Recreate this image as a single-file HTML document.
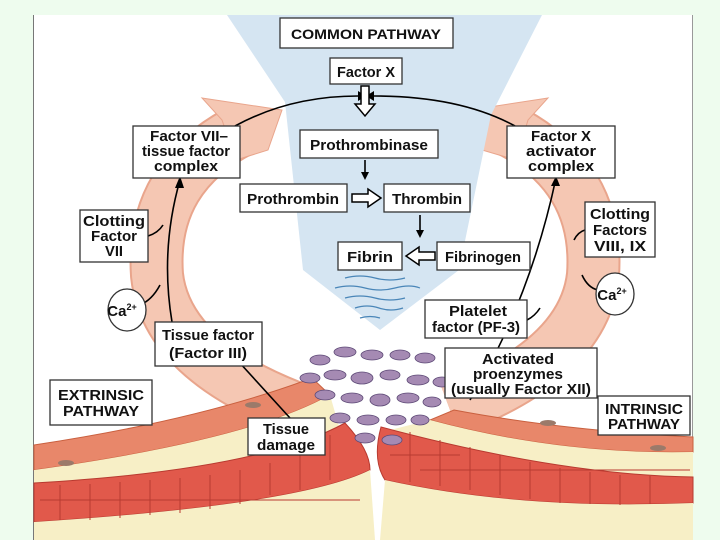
<!DOCTYPE html>
<html><head><meta charset="utf-8"><style>
html,body{margin:0;padding:0;background:#eefcee;}
svg{display:block}
text{font-family:"Liberation Sans Narrow","Liberation Sans",sans-serif;font-weight:bold;fill:#111;}
</style></head><body>
<svg width="720" height="540" viewBox="0 0 720 540" xmlns="http://www.w3.org/2000/svg">
<rect x="0" y="0" width="720" height="540" fill="#eefcee"/>
<rect x="33" y="15" width="660" height="525" fill="#fff"/>
<line x1="33.5" y1="15" x2="33.5" y2="540" stroke="#777" stroke-width="1"/>
<line x1="692.5" y1="15" x2="692.5" y2="540" stroke="#999" stroke-width="1"/>

<g fill="none">
<path d="M245,128 Q150,175 157,275 Q166,360 300,410" stroke="#e9a58c" stroke-width="54"/>
<path d="M245,128 Q150,175 157,275 Q166,360 300,410" stroke="#f5c7b3" stroke-width="50"/>
<path d="M505,128 Q600,175 593,275 Q584,360 450,410" stroke="#e9a58c" stroke-width="54"/>
<path d="M505,128 Q600,175 593,275 Q584,360 450,410" stroke="#f5c7b3" stroke-width="50"/>
</g>
<polygon points="202,98 282,110 268,150 236,160 222,120" fill="#f5c7b3" stroke="#e9a58c"/>
<polygon points="548,98 470,110 482,150 516,160 528,120" fill="#f5c7b3" stroke="#e9a58c"/>

<polygon points="227,15 542,15 491,115 459,270 380,330 303,270 285,102" fill="#d5e5f2"/>
<g stroke="#4a86b8" stroke-width="1.2" fill="none">
<path d="M345,278 q15,-4 30,0 t30,0"/><path d="M335,288 q15,-4 30,0 t30,0 t25,0"/>
<path d="M345,298 q15,-4 30,0 t30,0"/><path d="M355,308 q12,-4 24,0 t24,0"/>
<path d="M360,318 q10,-3 20,0"/>
</g>

<path d="M34,445 Q200,420 312,378 L330,395 Q250,440 34,470 Z" fill="#e8876a" stroke="#c9603f"/>
<path d="M34,470 Q250,440 330,395 L340,430 Q260,470 34,483 Z" fill="#f7efc6"/>
<path d="M34,483 Q260,470 345,423 Q370,450 370,470 Q300,505 34,522 Z" fill="#e1594b" stroke="#b83a30"/>
<path d="M34,522 Q300,505 370,470 L375,540 L34,540 Z" fill="#f7efc6"/>
<path d="M693,437 Q560,430 454,410 L430,420 Q560,455 693,452 Z" fill="#e8876a" stroke="#c9603f"/>
<path d="M693,452 Q560,455 430,420 L390,430 Q560,475 693,477 Z" fill="#f7efc6"/>
<path d="M693,477 Q560,475 381,427 Q372,460 385,480 Q520,510 693,503 Z" fill="#e1594b" stroke="#b83a30"/>
<path d="M693,503 Q520,510 385,480 L380,540 L693,540 Z" fill="#f7efc6"/>
<g stroke="#b83a30" stroke-width="1" fill="none">
<path d="M60,485 v35 M90,484 v36 M120,482 v36 M150,480 v35 M180,478 v35 M210,475 v34 M240,470 v34 M270,463 v32 M300,450 v40 M330,435 v45"/>
<path d="M410,432 v50 M440,440 v46 M470,447 v43 M500,455 v40 M530,462 v37 M560,468 v35 M590,472 v32 M620,475 v30 M650,476 v28"/>
<path d="M40,500 H360 M390,455 H460 M420,470 H690"/>
</g>
<ellipse cx="548" cy="423" rx="8" ry="3" fill="#9b7a6a"/>
<ellipse cx="658" cy="448" rx="8" ry="3" fill="#9b7a6a"/>
<ellipse cx="253" cy="405" rx="8" ry="3" fill="#9b7a6a"/>
<ellipse cx="66" cy="463" rx="8" ry="3" fill="#9b7a6a"/>

<g fill="#a58ab3" stroke="#5e4a77" stroke-width="0.8">
<ellipse cx="320" cy="360" rx="10" ry="5"/><ellipse cx="345" cy="352" rx="11" ry="5"/><ellipse cx="372" cy="355" rx="11" ry="5"/><ellipse cx="400" cy="355" rx="10" ry="5"/><ellipse cx="425" cy="358" rx="10" ry="5"/>
<ellipse cx="310" cy="378" rx="10" ry="5"/><ellipse cx="335" cy="375" rx="11" ry="5"/><ellipse cx="362" cy="378" rx="11" ry="6"/><ellipse cx="390" cy="375" rx="10" ry="5"/><ellipse cx="418" cy="380" rx="11" ry="5"/><ellipse cx="442" cy="382" rx="9" ry="5"/>
<ellipse cx="325" cy="395" rx="10" ry="5"/><ellipse cx="352" cy="398" rx="11" ry="5"/><ellipse cx="380" cy="400" rx="10" ry="6"/><ellipse cx="408" cy="398" rx="11" ry="5"/><ellipse cx="432" cy="402" rx="9" ry="5"/>
<ellipse cx="340" cy="418" rx="10" ry="5"/><ellipse cx="368" cy="420" rx="11" ry="5"/><ellipse cx="396" cy="420" rx="10" ry="5"/><ellipse cx="420" cy="420" rx="9" ry="5"/>
<ellipse cx="365" cy="438" rx="10" ry="5"/><ellipse cx="392" cy="440" rx="10" ry="5"/>
</g>

<g stroke="#000" stroke-width="1.6" fill="none">
<path d="M235,126 Q290,96 358,96"/>
<path d="M515,126 Q460,96 374,96"/>
<path d="M172,322 Q160,250 180,180"/>
<path d="M470,400 Q530,300 556,178"/>
<path d="M140,305 Q152,300 160,285"/>
<path d="M148,236 Q158,233 163,225"/>
<path d="M598,290 Q588,288 582,275"/>
<path d="M585,230 Q578,232 574,240"/>
<path d="M527,320 Q535,316 540,308"/>
<path d="M290,418 L228,350"/>
<path d="M420,215 V234"/><path d="M365,160 V176"/>
</g>
<g fill="#000">
<polygon points="358,91 358,101 366,96"/><polygon points="374,91 374,101 366,96"/>
<polygon points="180,176 175,188 184,188"/>
<polygon points="556,176 551,186 560,186"/>
<polygon points="224,346 236,350 229,357"/>
<polygon points="420,238 416,230 424,230"/><polygon points="365,180 361,172 369,172"/>
</g>
<polygon points="361,86 369,86 369,104 375,104 365,116 355,104 361,104" fill="#fff" stroke="#000" stroke-width="1.5"/>
<polygon points="352,194 368,194 368,189 381,198 368,207 368,202 352,202" fill="#fff" stroke="#000" stroke-width="1.5"/>
<polygon points="435,252 419,252 419,247 406,256 419,265 419,260 435,260" fill="#fff" stroke="#000" stroke-width="1.5"/>

<g fill="#fff" stroke="#333" stroke-width="1.3">
<rect x="280" y="18" width="173" height="30"/>
<rect x="330" y="58" width="72" height="26"/>
<rect x="300" y="130" width="138" height="28"/>
<rect x="240" y="184" width="107" height="28"/>
<rect x="384" y="184" width="86" height="28"/>
<rect x="338" y="242" width="64" height="28"/>
<rect x="437" y="242" width="93" height="28"/>
<rect x="133" y="126" width="107" height="52"/>
<rect x="80" y="210" width="68" height="52"/>
<rect x="155" y="322" width="107" height="44"/>
<rect x="50" y="380" width="102" height="45"/>
<rect x="248" y="418" width="77" height="37"/>
<rect x="507" y="126" width="108" height="52"/>
<rect x="585" y="202" width="70" height="55"/>
<rect x="425" y="300" width="102" height="38"/>
<rect x="445" y="348" width="152" height="50"/>
<rect x="598" y="396" width="92" height="39"/>
<ellipse cx="127" cy="310" rx="19" ry="21"/>
<ellipse cx="615" cy="294" rx="19" ry="21"/>
</g>
<g font-size="15" text-anchor="middle" lengthAdjust="spacingAndGlyphs">
<text x="366" y="39" font-size="14" textLength="150" lengthAdjust="spacingAndGlyphs">COMMON PATHWAY</text>
<text x="366" y="77" textLength="58" lengthAdjust="spacingAndGlyphs">Factor X</text>
<text x="369" y="150" textLength="118" lengthAdjust="spacingAndGlyphs">Prothrombinase</text>
<text x="293" y="204" textLength="92" lengthAdjust="spacingAndGlyphs">Prothrombin</text>
<text x="427" y="204" textLength="70" lengthAdjust="spacingAndGlyphs">Thrombin</text>
<text x="370" y="262" textLength="46" lengthAdjust="spacingAndGlyphs">Fibrin</text>
<text x="483" y="262" textLength="76" lengthAdjust="spacingAndGlyphs">Fibrinogen</text>
<text x="189" y="141" textLength="78" lengthAdjust="spacingAndGlyphs">Factor VII–</text>
<text x="186" y="156" textLength="88" lengthAdjust="spacingAndGlyphs">tissue factor</text>
<text x="186" y="171" textLength="64" lengthAdjust="spacingAndGlyphs">complex</text>
<text x="114" y="226" textLength="62" lengthAdjust="spacingAndGlyphs">Clotting</text>
<text x="114" y="241" textLength="46" lengthAdjust="spacingAndGlyphs">Factor</text>
<text x="114" y="256" textLength="18" lengthAdjust="spacingAndGlyphs">VII</text>
<text x="208" y="340" textLength="92" lengthAdjust="spacingAndGlyphs">Tissue factor</text>
<text x="208" y="358" textLength="78" lengthAdjust="spacingAndGlyphs">(Factor III)</text>
<text x="101" y="400" textLength="86" lengthAdjust="spacingAndGlyphs">EXTRINSIC</text>
<text x="101" y="416" textLength="76" lengthAdjust="spacingAndGlyphs">PATHWAY</text>
<text x="286" y="434" textLength="46" lengthAdjust="spacingAndGlyphs">Tissue</text>
<text x="286" y="450" textLength="58" lengthAdjust="spacingAndGlyphs">damage</text>
<text x="561" y="141" textLength="60" lengthAdjust="spacingAndGlyphs">Factor X</text>
<text x="561" y="156" textLength="70" lengthAdjust="spacingAndGlyphs">activator</text>
<text x="561" y="171" textLength="66" lengthAdjust="spacingAndGlyphs">complex</text>
<text x="620" y="219" textLength="60" lengthAdjust="spacingAndGlyphs">Clotting</text>
<text x="620" y="235" textLength="54" lengthAdjust="spacingAndGlyphs">Factors</text>
<text x="620" y="251" textLength="52" lengthAdjust="spacingAndGlyphs">VIII, IX</text>
<text x="478" y="316" textLength="58" lengthAdjust="spacingAndGlyphs">Platelet</text>
<text x="476" y="332" textLength="88" lengthAdjust="spacingAndGlyphs">factor (PF-3)</text>
<text x="518" y="364" textLength="72" lengthAdjust="spacingAndGlyphs">Activated</text>
<text x="518" y="379" textLength="90" lengthAdjust="spacingAndGlyphs">proenzymes</text>
<text x="521" y="394" textLength="140" lengthAdjust="spacingAndGlyphs">(usually Factor XII)</text>
<text x="644" y="414" textLength="78" lengthAdjust="spacingAndGlyphs">INTRINSIC</text>
<text x="644" y="429" textLength="72" lengthAdjust="spacingAndGlyphs">PATHWAY</text>
<text x="122" y="316">Ca<tspan font-size="9" dy="-6">2+</tspan></text>
<text x="612" y="300">Ca<tspan font-size="9" dy="-6">2+</tspan></text>
</g>
</svg>
</body></html>
